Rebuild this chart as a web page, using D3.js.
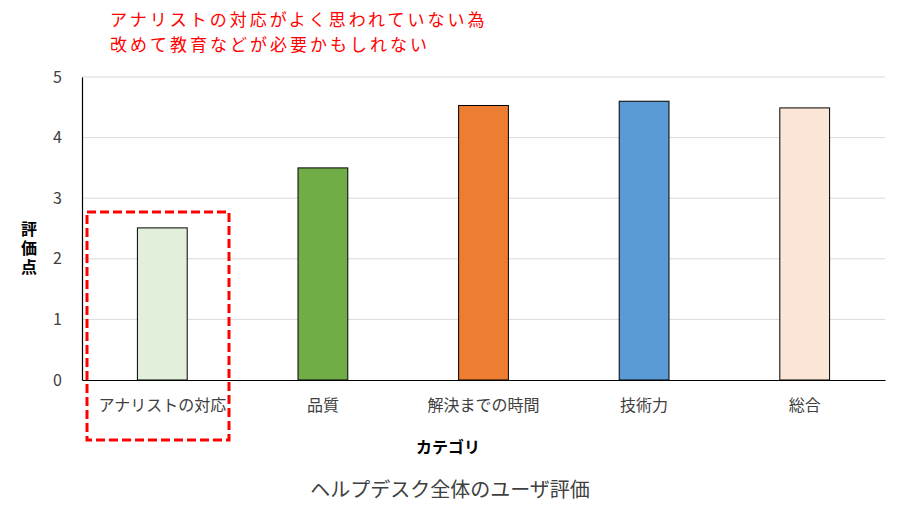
<!DOCTYPE html>
<html>
<head>
<meta charset="utf-8">
<script src="https://cdn.jsdelivr.net/npm/d3@7"></script>
<style>
  body { margin: 0; background: #fff; }
  text { font-family: "Noto Sans CJK JP", "Noto Sans", sans-serif; }
</style>
</head>
<body>
<svg id="chart" width="900" height="519"></svg>
<script>
// Data
var categories = ["アナリストの対応", "品質", "解決までの時間", "技術力", "総合"];
var scores = [2.51, 3.5, 4.53, 4.6, 4.49];
var barColours = ["#e2efda", "#70ad47", "#ed7d31", "#5b9bd5", "#fbe5d6"];
var yTicks = [0, 1, 2, 3, 4, 5];
var noteLines = ["アナリストの対応がよく思われていない為", "改めて教育などが必要かもしれない"];

var margin = { top: 77, right: 15, bottom: 139, left: 82 };
var svgWidth = 900, svgHeight = 519;
var width = svgWidth - margin.left - margin.right;
var height = svgHeight - margin.top - margin.bottom;

var svg = d3.select("#chart");
var g = svg.append("g")
    .attr("transform", "translate(" + margin.left + "," + margin.top + ")");

var x = d3.scaleBand().domain(categories).range([0, width])
    .paddingInner(0.69).paddingOuter(0.345);
var y = d3.scaleLinear().domain([0, 5]).range([height, 0]);

// gridlines
g.append("g")
    .selectAll("line")
    .data(yTicks.slice(1))
    .enter().append("line")
    .attr("x1", 0).attr("x2", width)
    .attr("y1", function(d) { return y(d); })
    .attr("y2", function(d) { return y(d); })
    .attr("stroke", "#d9d9d9")
    .attr("stroke-width", 1);

// bars
g.selectAll(".bar")
    .data(scores)
    .enter().append("rect")
    .attr("class", "bar")
    .attr("x", function(d, i) { return x(categories[i]); })
    .attr("y", function(d) { return y(d); })
    .attr("width", x.bandwidth())
    .attr("height", function(d) { return height - y(d); })
    .attr("fill", function(d, i) { return barColours[i]; })
    .attr("stroke", "#000")
    .attr("stroke-width", 1);

// y axis
var yAxis = d3.axisLeft(y).tickValues(yTicks).tickFormat(d3.format("d"))
    .tickSize(0).tickPadding(20);
var yG = g.append("g").call(yAxis);
yG.select(".domain").attr("stroke", "#000").attr("stroke-width", 1.2);
yG.selectAll("text").attr("font-size", 16).attr("fill", "#404040")
    .attr("font-family", "'Noto Sans CJK JP', sans-serif");

// x axis
var xAxis = d3.axisBottom(x).tickSize(0).tickPadding(20);
var xG = g.append("g").attr("transform", "translate(0," + height + ")").call(xAxis);
xG.select(".domain").attr("stroke", "#000").attr("stroke-width", 1.2);
xG.selectAll("text").attr("font-size", 16).attr("fill", "#404040")
    .attr("font-family", "'Noto Sans CJK JP', sans-serif");

// axis titles
svg.append("text")
    .attr("x", 448).attr("y", 453)
    .attr("text-anchor", "middle")
    .attr("font-size", 16).attr("font-weight", "bold")
    .attr("fill", "#000")
    .text("カテゴリ");

// vertical, upright y title
svg.append("text")
    .attr("x", 29).attr("y", 249)
    .attr("text-anchor", "middle")
    .style("writing-mode", "vertical-rl")
    .style("text-orientation", "upright")
    .attr("letter-spacing", 3)
    .attr("font-size", 16).attr("font-weight", "bold")
    .attr("fill", "#000")
    .text("評価点");

// chart title
svg.append("text")
    .attr("x", 450).attr("y", 497)
    .attr("text-anchor", "middle")
    .attr("font-size", 20)
    .attr("fill", "#404040")
    .text("ヘルプデスク全体のユーザ評価");

// note + highlight box
svg.selectAll(".note")
    .data(noteLines)
    .enter().append("text")
    .attr("class", "note")
    .attr("x", 110)
    .attr("y", function(d, i) { return 26 + i * 25; })
    .attr("font-size", 17)
    .attr("letter-spacing", 3)
    .attr("fill", "#ff0000")
    .text(function(d) { return d; });

svg.append("rect")
    .attr("x", 87).attr("y", 212)
    .attr("width", 142).attr("height", 228)
    .attr("fill", "none")
    .attr("stroke", "#ff0000")
    .attr("stroke-width", 3)
    .attr("stroke-dasharray", "9,4");
</script>
</body>
</html>
